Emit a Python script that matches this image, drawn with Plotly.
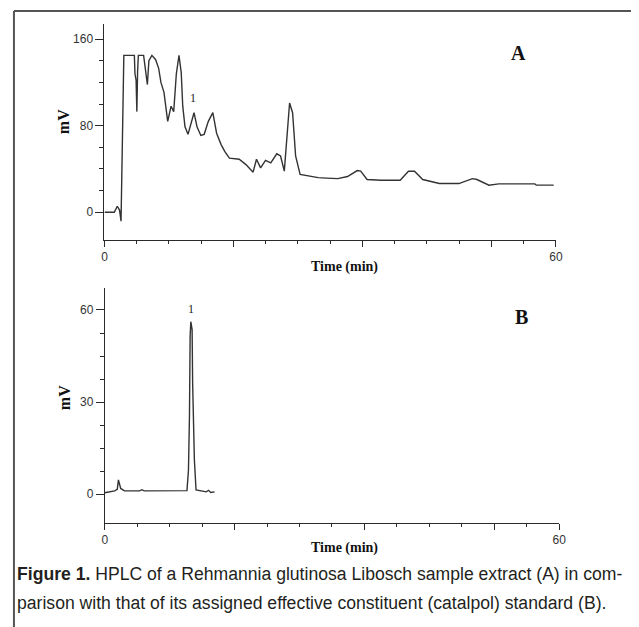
import plotly.graph_objects as go

# ---- data ----
time_a = [0, 1.3, 1.7, 2.0, 2.2, 2.31, 2.45, 2.57, 3.97, 4.05,
          4.2, 4.3, 4.4, 4.5, 5.2, 5.4, 5.7, 5.9, 6.3, 6.8,
          7.2, 7.5, 7.9, 8.4, 8.85, 9.2, 9.55, 9.9, 10.2, 10.4,
          10.7, 11.1, 11.4, 11.9, 12.3, 12.8, 13.25, 13.8, 14.4, 14.9,
          15.5, 16.0, 16.6, 17.9, 18.8, 19.75, 20.2, 20.75, 21.4, 22.1,
          22.9, 23.4, 23.9, 24.6, 25.0, 25.4, 26.0, 27.1, 28.4, 29.5,
          31.0, 32.3, 33.6, 34.05, 34.9, 36.7, 39.3, 40.4, 41.2, 42.3,
          44.5, 47.1, 48.9, 49.5, 51.1, 52.4, 57.2, 57.4, 59.7]
mv_a = [0, 0, 5.5, 2, -8.3, 33, 112, 145, 145, 128,
        122, 93, 130, 145, 145, 132, 118, 140, 145, 141,
        133, 120, 111, 84, 98, 93, 128, 145, 129, 98,
        79, 72, 79, 92, 79, 71, 72, 84, 92, 73,
        62.5, 56, 50, 49, 44, 37, 49, 41, 48, 45.6,
        54, 52, 38, 101, 92, 52, 35, 33.5, 32, 31.5,
        31, 33, 38.5, 38, 30.2, 29.5, 29.5, 37.8, 37.8, 30.2,
        26.5, 26.5, 31, 30.2, 25, 26.2, 26.2, 25, 25]

time_b = [0, 1.3, 1.65, 1.8, 2.1, 2.6, 4.6, 4.9, 5.2, 10.85, 11.05,
          11.18, 11.27, 11.36, 11.53, 11.6, 11.83, 12.05, 13.4, 13.7, 14.0, 14.5]
mv_b = [0.5, 1.1, 1.6, 4.7, 1.9, 1.1, 1.1, 1.5, 1.1, 1.2, 7.9,
        25.3, 51.4, 56.2, 53.6, 36.2, 11.2, 1.4, 0.8, 1.3, 0.6, 0.8]

x_tick_labels = ["0", "", "", "", "60"]
x_major = [0, 60 * 4 / 14, 60 * 8 / 14, 60 * 12 / 14, 60]
x_minor = [60 * i / 14 for i in range(1, 14) if i % 4 != 0]
ya_major = [0, 80, 160]
ya_minor = [20, 40, 60, 100, 120, 140]
yb_major = [0, 30, 60]
yb_minor = [7.5, 15, 22.5, 37.5, 45, 52.5]
peak_label = "1"

# The page body has an 8px default margin: the figure is drawn at (8, 8)
OFF = 8
W, H = 639 - OFF, 627 - OFF
def px(x):
    return (x - OFF) / W
def py(y):
    return 1 - (y - OFF) / H

LINE = "#2a2a2a"
TICKFONT = dict(family="Liberation Sans, Arial, sans-serif", size=12, color="#333")
SERIF = "Liberation Serif, Times New Roman, serif"

fig = go.Figure()
fig.add_trace(go.Scatter(x=time_a, y=mv_a, mode="lines", line=dict(color="#333", width=1.4),
                         xaxis="x", yaxis="y", showlegend=False, hoverinfo="skip"))
fig.add_trace(go.Scatter(x=time_b, y=mv_b, mode="lines", line=dict(color="#333", width=1.4),
                         xaxis="x2", yaxis="y2", showlegend=False, hoverinfo="skip"))

def xax(domain, anchor):
    return dict(domain=domain, anchor=anchor, range=[0, 60], showline=True, linecolor=LINE,
                linewidth=1, showgrid=False, zeroline=False, ticks="outside",
                tickmode="array", tickvals=x_major, ticktext=x_tick_labels, ticklen=6,
                tickcolor=LINE, tickwidth=1, tickfont=TICKFONT,
                minor=dict(tickmode="array", tickvals=x_minor, ticks="outside", ticklen=3,
                           tickcolor=LINE, tickwidth=1, showgrid=False))

def yax(domain, anchor, rng, major, minor):
    return dict(domain=domain, anchor=anchor, range=rng, showline=True, linecolor=LINE,
                linewidth=1, showgrid=False, zeroline=False, ticks="outside",
                tickmode="array", tickvals=major, ticktext=[str(v) for v in major], ticklen=8,
                tickcolor=LINE, tickwidth=1, tickfont=TICKFONT,
                minor=dict(tickmode="array", tickvals=minor, ticks="outside", ticklen=4,
                           tickcolor=LINE, tickwidth=1, showgrid=False))

fig.update_layout(
    width=W, height=H, margin=dict(l=0, r=0, t=0, b=0),
    paper_bgcolor="white", plot_bgcolor="white",
    xaxis=xax([px(103), px(561.7)], "y"),
    yaxis=yax([py(240), py(24)], "x", [-25.7, 174], ya_major, ya_minor),
    xaxis2=xax([px(103.3), px(565)], "y2"),
    yaxis2=yax([py(522.7), py(288.3)], "x2", [-9.25, 67.06], yb_major, yb_minor),
)

ann = []
def txt(text, x, y, size, family=SERIF, angle=0, xanchor="center", color="#111"):
    ann.append(dict(text=text, x=px(x), y=py(y), xref="paper", yref="paper",
                    showarrow=False, textangle=angle, xanchor=xanchor, yanchor="middle",
                    font=dict(family=family, size=size, color=color)))

# Panel A
txt("<b>mV</b>", 62, 122, 16, angle=-90)
txt("<b>Time (min)</b>", 347, 267, 14)
txt("<b>A</b>", 524, 53, 20)
ann.append(dict(text=peak_label, x=11.8, y=105.5, xref="x", yref="y", showarrow=False,
                font=dict(family=SERIF, size=12, color="#222")))
# Panel B
txt("<b>mV</b>", 62, 398, 16, angle=-90)
txt("<b>Time (min)</b>", 347, 548, 14)
txt("<b>B</b>", 527, 317, 20)
ann.append(dict(text=peak_label, x=11.4, y=60.3, xref="x2", yref="y2", showarrow=False,
                font=dict(family=SERIF, size=12, color="#222")))
# Caption
CAP = "Liberation Sans, Arial, sans-serif"
txt("<b>Figure 1.</b> HPLC of a Rehmannia glutinosa Libosch sample extract (A) in com-",
    12, 574, 17.6, family=CAP, xanchor="left", color="#231f20")
txt("parison with that of its assigned effective constituent (catalpol) standard (B).",
    12, 603, 17.6, family=CAP, xanchor="left", color="#231f20")
fig.update_layout(annotations=ann)

# Frame (top and left border)
fig.update_layout(shapes=[
    dict(type="line", xref="paper", yref="paper", x0=px(11), x1=1, y0=py(11), y1=py(11),
         line=dict(color="#555", width=2)),
    dict(type="line", xref="paper", yref="paper", x0=px(11), x1=px(11), y0=py(11), y1=0,
         line=dict(color="#555", width=2)),
])

fig.write_html("out.html")
